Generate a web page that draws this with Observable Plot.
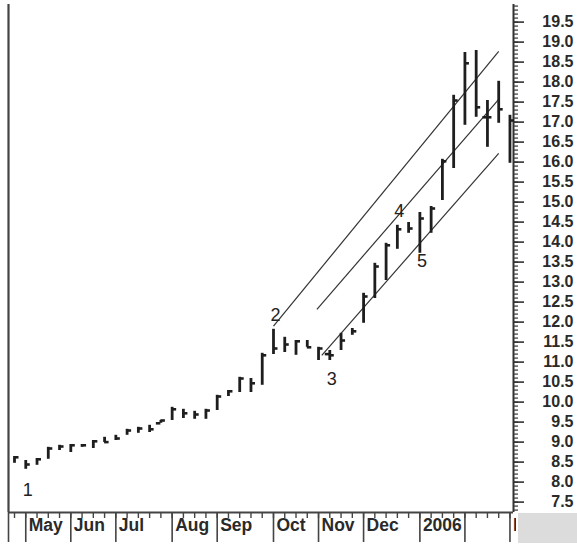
<!DOCTYPE html>
<html><head><meta charset="utf-8">
<script src="https://cdn.jsdelivr.net/npm/d3@7"></script>
<script src="https://cdn.jsdelivr.net/npm/@observablehq/plot@0.6"></script>
<style>
body{margin:0;background:#fff;}
#wrap{position:relative;width:577px;height:548px;overflow:hidden;}
#gray{position:absolute;left:516px;top:513px;width:61px;height:30px;background:#dcdcdc;border-left:2px solid #fff;z-index:2;}
</style></head><body><div id="wrap"></div>
<script>
// Weekly bars (Friday dates)
const dates = ["2005-04-29","2005-05-06","2005-05-13","2005-05-20","2005-05-27","2005-06-03","2005-06-10","2005-06-17","2005-06-24",
"2005-07-01","2005-07-08","2005-07-15","2005-07-22","2005-07-29","2005-08-05","2005-08-12","2005-08-19","2005-08-26",
"2005-09-02","2005-09-09","2005-09-16","2005-09-23","2005-09-30","2005-10-07","2005-10-14","2005-10-21","2005-10-28",
"2005-11-04","2005-11-11","2005-11-18","2005-11-25","2005-12-02","2005-12-09","2005-12-16","2005-12-23","2005-12-30",
"2006-01-06","2006-01-13","2006-01-20","2006-01-27","2006-02-03","2006-02-10","2006-02-17","2006-02-24","2006-03-03"];
const high  = [8.64,8.54,8.59,8.87,8.92,8.94,8.94,9.04,9.12,9.17,9.32,9.37,9.42,9.54,9.87,9.82,9.77,9.82,10.17,10.29,10.62,10.59,11.22,11.82,11.62,11.54,11.54,11.37,11.29,11.72,11.84,12.72,13.47,13.97,14.42,14.49,14.74,14.89,16.07,17.67,18.74,18.79,17.54,18.02,17.17];
const low   = [8.47,8.32,8.42,8.57,8.79,8.74,8.87,8.84,8.99,9.04,9.17,9.22,9.24,9.47,9.54,9.59,9.57,9.57,9.79,10.14,10.24,10.24,10.42,11.19,11.24,11.17,11.37,11.04,11.04,11.29,11.67,11.97,12.59,13.04,13.82,14.22,13.72,14.22,15.04,15.84,16.92,17.12,16.37,16.97,15.97];
const close = [8.62,8.44,8.57,8.84,8.89,8.92,8.92,9.02,9.00,9.09,9.29,9.34,9.32,9.54,9.82,9.72,9.69,9.79,10.14,10.27,10.59,10.47,11.17,11.34,11.44,11.52,11.37,11.34,11.17,11.54,11.77,12.64,13.39,13.92,14.32,14.34,14.59,14.84,16.02,17.54,18.47,17.37,17.12,17.32,17.04];
const open  = [null,null,null,null,null,null,null,null,null,null,null,null,null,9.47,null,null,null,null,null,null,null,null,null,null,null,null,null,null,11.2,null,null,null,null,null,null,null,null,null,null,null,null,null,17.12,null,null];

// Axis labels
const yTickLabels = ["7.5","8.0","8.5","9.0","9.5","10.0","10.5","11.0","11.5","12.0","12.5","13.0","13.5","14.0","14.5","15.0","15.5","16.0","16.5","17.0","17.5","18.0","18.5","19.0","19.5"];
const monthDates  = ["2005-05-06","2005-06-03","2005-07-01","2005-08-05","2005-09-02","2005-10-07","2005-11-04","2005-12-02","2006-01-06","2006-02-03","2006-03-03"];
const monthLabels = ["May","Jun","Jul","Aug","Sep","Oct","Nov","Dec","2006","","Mar"];

// Wave count labels
const waveText   = ["1","2","3","4","5"];
const waveDates  = ["2005-05-06","2005-10-07","2005-11-11","2005-12-23","2006-01-06"];
const waveValues = [7.79,12.17,10.57,14.78,13.52];

// Channel lines
const chStartDates  = ["2005-10-07","2005-11-03","2005-11-06"];
const chStartValues = [11.90,12.32,11.17];
const chEndDates    = ["2006-02-24","2006-02-24","2006-02-24"];
const chEndValues   = [18.77,17.57,16.22];

const DAY = 864e5;
const bars = dates.map((d,i)=>({date:new Date(d),high:high[i],low:low[i],close:close[i],open:open[i]}));
const months = monthDates.map((d,i)=>({date:new Date(d),label:monthLabels[i]}));
const waves = waveText.map((t,i)=>({date:new Date(waveDates[i]),value:waveValues[i],text:t}));
const channels = chStartDates.map((d,i)=>({x1:new Date(d),y1:chStartValues[i],x2:new Date(chEndDates[i]),y2:chEndValues[i]}));
const majorTicks = yTickLabels.map(Number);
const minorTicks = d3.range(73,200).map(v=>v/10);

const xDomain = [new Date(+bars[0].date - 3.73*DAY), new Date(+bars[bars.length-1].date + 2.2*DAY)];
const yDomain = [7.24, 19.94];
const tickDays = 2.8;
const ink = "#1e1e1e";

const chart = Plot.plot({
  width: 577, height: 548,
  marginLeft: 8, marginRight: 64, marginTop: 4, marginBottom: 36,
  style: {fontFamily: "'Liberation Sans', Arial, sans-serif", background: "#fff", color: "#222"},
  x: {type: "utc", domain: xDomain, axis: null},
  y: {domain: yDomain, axis: null},
  marks: [
    Plot.ruleX([xDomain[1]], {stroke: "#333", strokeWidth: 2}),
    Plot.ruleX([xDomain[0]], {stroke: "#444", strokeWidth: 2.2}),
    Plot.ruleY([yDomain[0]], {stroke: "#444", strokeWidth: 1.8}),
    Plot.axisY(minorTicks, {anchor: "right", tickSize: 4, tickFormat: () => "", stroke: "#444", strokeWidth: 1.3}),
    Plot.axisY(majorTicks, {anchor: "right", tickSize: 10, tickFormat: () => "", stroke: "#333", strokeWidth: 1.6}),
    Plot.text(majorTicks, {y: d => d, text: (d,i) => yTickLabels[i], frameAnchor: "right", dx: 60, textAnchor: "end", fontSize: 16, fontWeight: "bold", fill: "#2a2a2a"}),
    Plot.axisX(bars.map(d=>d.date), {anchor: "bottom", tickSize: 6, tickFormat: () => "", stroke: "#444", strokeWidth: 1.4}),
    Plot.axisX([xDomain[0], ...months.map(d=>d.date)], {anchor: "bottom", tickSize: 30, tickFormat: () => "", stroke: "#444", strokeWidth: 1.6}),
    Plot.text(months, {x: "date", text: "label", frameAnchor: "bottom", dx: 3, dy: 18, textAnchor: "start", fontSize: 17.5, fontWeight: "bold", fill: "#2a2a2a"}),
    Plot.link(channels, {x1: "x1", y1: "y1", x2: "x2", y2: "y2", stroke: "#333", strokeWidth: 1.2}),
    Plot.ruleX(bars, {x: "date", y1: "low", y2: "high", stroke: ink, strokeWidth: 2.8}),
    Plot.ruleY(bars, {y: "close", x1: "date", x2: d => new Date(+d.date + tickDays*DAY), stroke: ink, strokeWidth: 2.6}),
    Plot.ruleY(bars.filter(d => d.open != null), {y: "open", x1: d => new Date(+d.date - tickDays*DAY), x2: "date", stroke: ink, strokeWidth: 2.6}),
    Plot.text(waves, {x: "date", y: "value", text: "text", dx: 2, fontSize: 18, fill: "#222"})
  ]
});
const wrap = document.getElementById("wrap");
wrap.appendChild(chart);
const g = document.createElement("div"); g.id = "gray"; wrap.appendChild(g);
</script></body></html>
